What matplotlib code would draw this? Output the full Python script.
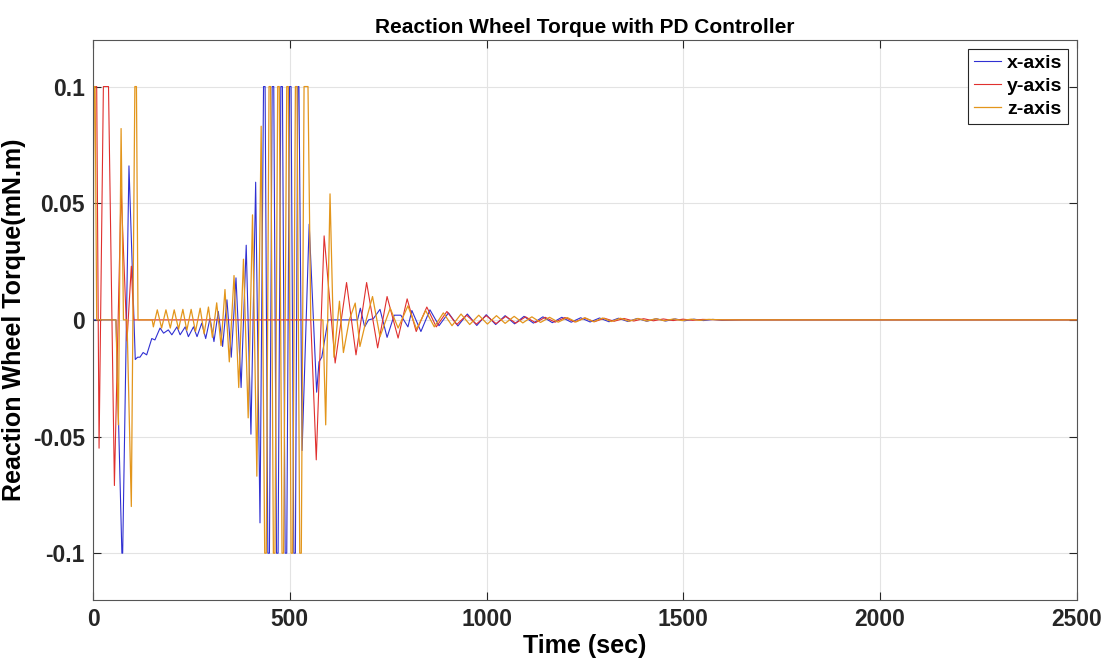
import matplotlib
matplotlib.use("Agg")
import matplotlib.pyplot as plt

plt.rcParams["font.family"] = ["Liberation Sans", "DejaVu Sans"]
plt.rcParams["font.weight"] = "bold"
plt.rcParams["axes.unicode_minus"] = False

# ── data (time in s, torque in mN.m) ────────────────────────────────────────
x_t = [0, 58, 73, 75, 91, 107, 113, 119, 127, 136, 149, 157, 170, 179, 191, 200,
       213, 221, 234, 242, 255, 264, 276, 286, 297, 307, 318, 329, 340, 351, 363,
       376, 389, 401, 413, 424, 433, 437, 444, 448, 455, 459, 466, 470, 477, 481,
       488, 492, 499, 503, 510, 514, 520, 523, 531, 549, 568, 574, 581, 597, 672,
       679, 690, 700, 712, 729, 747, 765, 782, 800, 810, 833, 856, 879, 903, 927,
       951, 975, 999, 1023, 1047, 1071, 1095, 1119, 1143, 1167, 1191, 1215, 1239,
       1263, 1287, 1311, 1335, 1359, 1383, 1407, 1431, 1455, 1479, 1503, 1527,
       1551, 1575, 1599, 1650, 2500]
x_v = [0, 0, -0.1, -0.1, 0.066, -0.017, -0.016, -0.016, -0.014, -0.015, -0.008,
       -0.0086, -0.0035, -0.0057, -0.0043, -0.0064, -0.003, -0.0064, -0.003,
       -0.0072, -0.003, -0.0072, -0.0014, -0.008, 0.0007, -0.0093, 0.0036,
       -0.0114, 0.0086, -0.016, 0.018, -0.029, 0.032, -0.049, 0.059, -0.087,
       0.1, 0.1, -0.1, -0.1, 0.1, 0.1, -0.1, -0.1, 0.1, 0.1, -0.1, -0.1, 0.1, 0.1,
       -0.1, -0.1, 0.1, 0.1, -0.056, 0.041, -0.031, -0.018, -0.016, 0, 0,
       0.005, -0.003, 0, 0.0005, 0.0045, -0.0075, 0.002, 0.002, -0.003, 0.004,
       -0.005, 0.0043, -0.0025, 0.003, -0.0026, 0.0025, -0.0024, 0.0022, -0.002,
       0.0018, -0.0017, 0.0015, -0.0014, 0.0013, -0.0012, 0.0011, -0.001, 0.0009,
       -0.0009, 0.0008, -0.0008, 0.0007, -0.0007, 0.0006, -0.0006, 0.0005,
       -0.0005, 0.0004, -0.0004, 0.0003, -0.0003, 0.0002, -0.0002, 0, 0]

y_t = [0, 2, 9, 15, 26, 39, 54, 71, 86, 97, 103, 553, 567, 587, 615, 644, 668,
       695, 723, 747, 775, 798, 821, 848, 872, 899, 924, 949, 974, 999, 1024,
       1049, 1074, 1099, 1124, 1149, 1174, 1199, 1224, 1249, 1274, 1299, 1324,
       1349, 1374, 1399, 1424, 1449, 1474, 1499, 1524, 1549, 1600, 2500]
y_v = [0.05, 0.1, 0.1, -0.055, 0.1, 0.1, -0.071, 0.056, -0.009, 0.023, 0, 0,
       -0.060, 0.036, -0.0185, 0.016, -0.015, 0.016, -0.012, 0.010, -0.0078,
       0.009, -0.005, 0.0055, -0.003, 0.0036, -0.002, 0.002, -0.0018, 0.0018,
       -0.0016, 0.0015, -0.0014, 0.0013, -0.0012, 0.0011, -0.001, 0.001, -0.0009,
       0.0008, -0.0008, 0.0007, -0.0006, 0.0006, -0.0005, 0.0005, -0.0004,
       0.0004, -0.0003, 0.0003, -0.0002, 0.0002, 0, 0]

z_t = [0, 2, 5, 9, 58, 64, 71, 77, 86, 97, 106, 110, 114, 150, 153, 163, 174,
       185, 196, 206, 217, 228, 238, 249, 260, 272, 282, 293, 303, 314, 325, 335,
       346, 358, 370, 382, 394, 405, 416, 427, 436, 440, 447, 451, 458, 462, 469,
       473, 480, 484, 492, 496, 503, 507, 514, 518, 525, 529, 536, 546, 553, 584,
       591, 602, 612, 626, 636, 651, 666, 678, 694, 710, 729, 755, 775, 800, 822,
       845, 867, 890, 912, 935, 957, 980, 1002, 1025, 1047, 1070, 1092, 1115,
       1137, 1160, 1182, 1205, 1227, 1250, 1272, 1295, 1317, 1340, 1362, 1385,
       1407, 1430, 1452, 1475, 1497, 1520, 1542, 1565, 1600, 2500]
z_v = [0.01, 0.1, 0.1, 0, 0, -0.045, 0.082, 0, 0, -0.08, 0.1, 0.1, 0, 0, -0.003,
       0.0043, -0.0035, 0.0043, -0.0035, 0.0043, -0.004, 0.0045, -0.0045,
       0.0045, -0.005, 0.005, -0.006, 0.0055, -0.0075, 0.0073, -0.011, 0.013,
       -0.018, 0.019, -0.029, 0.026, -0.042, 0.045, -0.067, 0.083, -0.1, -0.1,
       0.1, 0.1, -0.1, -0.1, 0.1, 0.1, -0.1, -0.1, 0.1, 0.1, -0.1, -0.1, 0.1, 0.1,
       -0.1, -0.1, 0.1, 0.1, 0, 0, -0.045, 0.054, -0.016, 0.008, -0.014, 0,
       0.0072, -0.0114, 0, 0.010, -0.0072, 0.005, -0.0035, 0.006, -0.004, 0.004,
       -0.003, 0.003, -0.0025, 0.0025, -0.002, 0.002, -0.0018, 0.0018, -0.0015,
       0.0015, -0.0013, 0.0013, -0.0011, 0.0011, -0.001, 0.001, -0.0009, 0.0009,
       -0.0008, 0.0008, -0.0007, 0.0007, -0.0006, 0.0006, -0.0005, 0.0005,
       -0.0004, 0.0004, -0.0003, 0.0003, -0.0002, 0.0002, 0, 0]

series_names = ["x-axis", "y-axis", "z-axis"]
x_ticks = [0, 500, 1000, 1500, 2000, 2500]
y_ticks = [-0.1, -0.05, 0, 0.05, 0.1]
y_tick_labels = ["-0.1", "-0.05", "0", "0.05", "0.1"]

# ── plot ───────────────────────────────────────────────────────────────────
fig = plt.figure(figsize=(11.09, 6.65), dpi=100)
ax = fig.add_axes([0.084, 0.098, 0.887, 0.842])

ax.plot(x_t, x_v, color="#3030d2", linewidth=0.8, label=series_names[0])
ax.plot(y_t, y_v, color="#e0302e", linewidth=0.8, label=series_names[1])
ax.plot(z_t, z_v, color="#e3961c", linewidth=0.9, label=series_names[2])

ax.set_xlim(0, 2500)
ax.set_ylim(-0.12, 0.12)
ax.set_xticks(x_ticks)
ax.set_xticklabels([str(v) for v in x_ticks])
ax.set_yticks(y_ticks)
ax.set_yticklabels(y_tick_labels)
ax.tick_params(direction="in", length=6, labelsize=16.5, colors="#262626",
               top=True, right=True)
ax.tick_params(axis="y", pad=6)
ax.tick_params(axis="x", pad=6)
for lbl in ax.get_xticklabels() + ax.get_yticklabels():
    lbl.set_fontweight("bold")
ax.grid(True, color="#e3e3e3", linewidth=0.8)
ax.set_axisbelow(True)
for s in ax.spines.values():
    s.set_color("#555555")
    s.set_linewidth(0.8)

ax.set_xlabel("Time (sec)", fontsize=18, fontweight="bold", labelpad=2)
ax.set_ylabel("Reaction Wheel Torque(mN.m)", fontsize=18, fontweight="bold")
ax.yaxis.set_label_coords(-0.068, 0.5)
ax.set_title("Reaction Wheel Torque with PD Controller", fontsize=15,
             fontweight="bold", pad=5)

leg = ax.legend(loc="upper right", fontsize=14, handlelength=1.4,
                handletextpad=0.3, borderpad=0.3, labelspacing=0.28,
                fancybox=False, framealpha=1, borderaxespad=0.45)
leg.get_frame().set_edgecolor("#262626")
leg.get_frame().set_linewidth(0.8)
for t in leg.get_texts():
    t.set_fontweight("bold")

fig.savefig("out.png", dpi=100)
